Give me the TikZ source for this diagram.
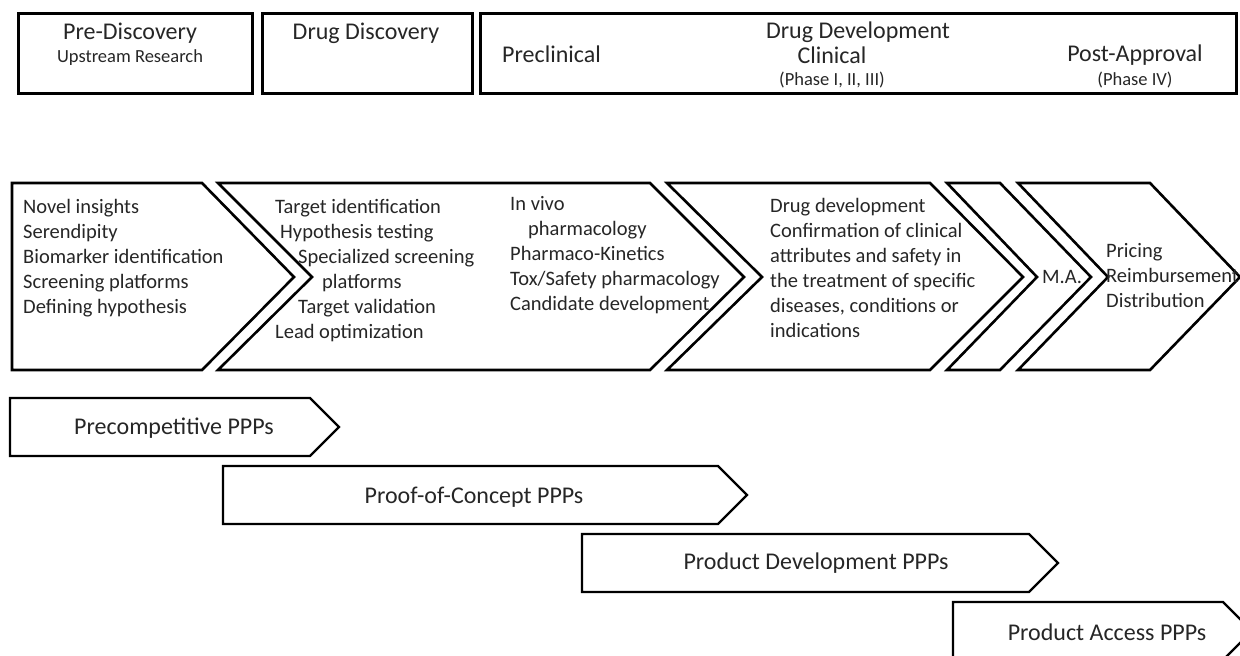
\documentclass[tikz,border=0pt]{standalone}
\usepackage{fontspec}
\setmainfont{Carlito}
\usetikzlibrary{calc}

\begin{document}
\begin{tikzpicture}[x=1pt,y=-1pt,
    boxline/.style={line width=3pt},
    chevline/.style={line width=2.6pt, line join=miter},
    pppline/.style={line width=2.2pt, line join=miter},
    big/.style={font=\fontsize{24}{28}\selectfont, text=black!85, inner sep=0pt},
    small/.style={font=\fontsize{18.5}{22}\selectfont, text=black!85, inner sep=0pt},
    lines/.style={font=\fontsize{20.5}{25}\selectfont, text=black!85, align=left, anchor=north west, inner sep=0pt}]
      \useasboundingbox (0,0) rectangle (1240,656);
      % stage boxes
      \draw [boxline] (18,13) rectangle (252,93);
      \draw [boxline] (262,13) rectangle (472,93);
      \draw [boxline] (480,13) rectangle (1236,93);
      \node [big] (prd) at (130,33) {Pre-Discovery};
      \node [small] (upr) at (130,58) {Upstream Research};
      \node [big] (drd) at (366,33) {Drug Discovery};
      \node [big, anchor=west] (pcl) at (502,54) {Preclinical};
      \node [big] (ddv) at (858,32) {Drug Development};
      \node [big] (cln) at (832,55) {Clinical};
      \node [small] (ph3) at (832,80) {(Phase I, II, III)};
      \node [big] (pap) at (1135,55) {Post-Approval};
      \node [small] (ph4) at (1135,80) {(Phase IV)};
      % chevrons
      \draw [chevline] (12,183) -- (202,183) -- (294,277) -- (202,370) -- (12,370) -- cycle;
      \draw [chevline] (218,183) -- (650,183) -- (744,277) -- (650,370) -- (218,370) -- (312,277) -- cycle;
      \draw [chevline] (667,183) -- (930,183) -- (1023,277) -- (930,370) -- (667,370) -- (762,277) -- cycle;
      \draw [chevline] (947,183) -- (1000,183) -- (1091,277) -- (1000,370) -- (947,370) -- (1037,277) -- cycle;
      \draw [chevline] (1018,183) -- (1150,183) -- (1240,277) -- (1150,370) -- (1018,370) -- (1108,277) -- cycle;
      \node [lines] (nov) at (23,199) {Novel insights\\Serendipity\\Biomarker identification\\Screening platforms\\Defining hypothesis};
      \node [lines] (tgt) at (275,199) {Target identification\\\hspace*{5pt}Hypothesis testing\\\hspace*{23pt}Specialized screening\\\hspace*{47pt}platforms\\\hspace*{23pt}Target validation\\Lead optimization};
      \node [lines] (viv) at (510,196) {In vivo\\\hspace*{18pt}pharmacology\\Pharmaco-Kinetics\\Tox/Safety pharmacology\\Candidate development};
      \node [lines] (cnf) at (770,198) {Drug development\\Confirmation of clinical\\attributes and safety in\\the treatment of specific\\diseases, conditions or\\indications};
      \node [lines, anchor=center] (ma) at (1062,277) {M.A.};
      \node [lines] (prc) at (1106,243) {Pricing\\Reimbursement\\Distribution};
      % PPP arrows
      \draw [pppline] (10,398) -- (310,398) -- (339,427) -- (310,456) -- (10,456) -- cycle;
      \draw [pppline] (223,466) -- (718,466) -- (747,495) -- (718,524) -- (223,524) -- cycle;
      \draw [pppline] (582,534) -- (1029,534) -- (1058,563) -- (1029,592) -- (582,592) -- cycle;
      \draw [pppline] (953,602) -- (1223,602) -- (1252,631) -- (1223,660) -- (953,660) -- cycle;
      \node [big] (pre) at (174,428) {Precompetitive PPPs};
      \node [big] (poc) at (474,497) {Proof-of-Concept PPPs};
      \node [big] (pdv) at (816,563) {Product Development PPPs};
      \node [big] (pac) at (1107,632) {Product Access PPPs};
    \end{tikzpicture}
\end{document}
